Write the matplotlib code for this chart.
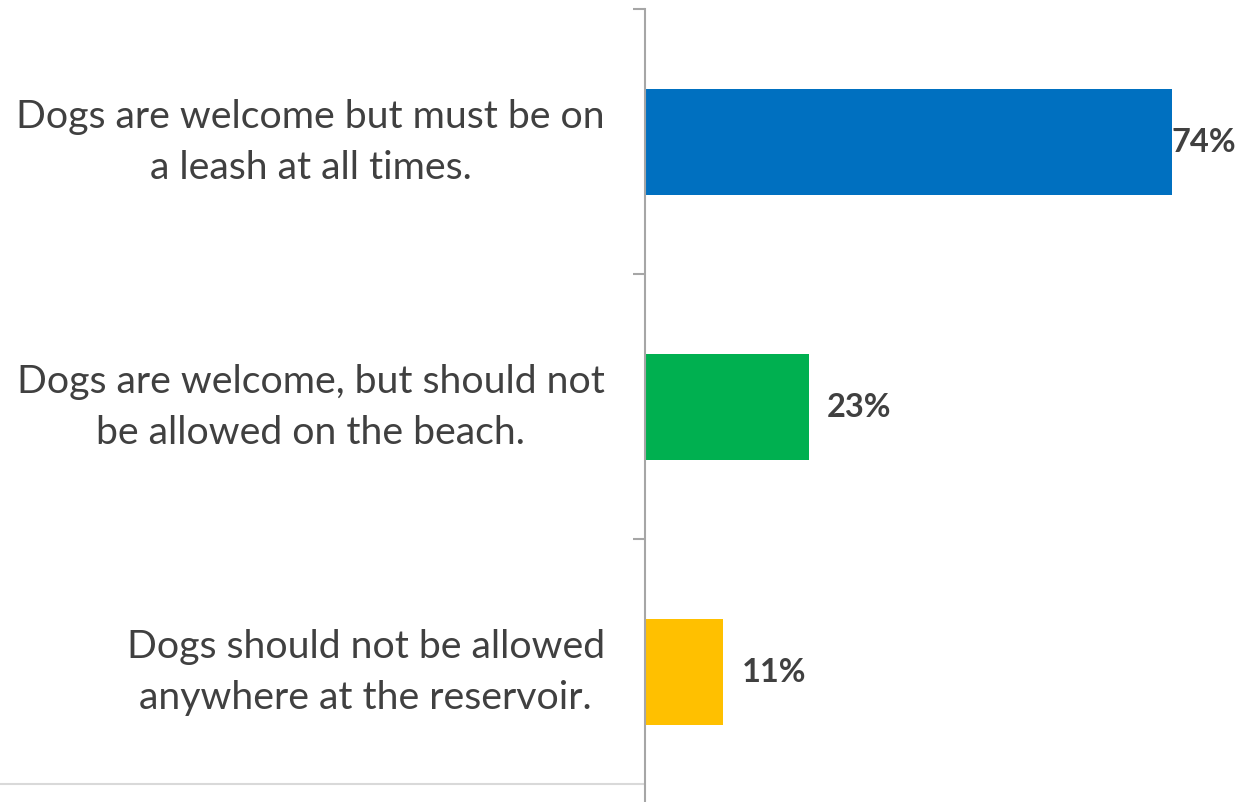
import matplotlib.pyplot as plt
from matplotlib.lines import Line2D

categories = [
    "Dogs are welcome but must be on\na leash at all times.",
    "Dogs are welcome, but should not\nbe allowed on the beach.",
    "Dogs should not be allowed\nanywhere at the reservoir.",
]
values = [74, 23, 11]
colors = ["#0070C0", "#00B050", "#FFC000"]
value_labels = ["74%", "23%", "11%"]

W, H = 1239, 803
fig = plt.figure(figsize=(W / 100, H / 100), dpi=100)
plt.rcParams['font.family'] = ['Lato', 'DejaVu Sans']

# axes placed in pixel units
left, right, top, bottom = 645, 1239, 10, 805
ax = fig.add_axes([left / W, (H - bottom) / H, (right - left) / W, (bottom - top) / H])

pos = range(len(categories))
ax.barh(pos, values, height=0.4, color=colors)
ax.set_ylim(2.5, -0.5)
ax.set_xlim(0, (right - left) / 7.12)

for s in ["top", "right", "bottom"]:
    ax.spines[s].set_visible(False)
ax.spines["left"].set_color("#a6a6a6")
ax.spines["left"].set_linewidth(1.5)
ax.set_xticks([])

ax.set_yticks(list(pos))
ax.set_yticklabels(categories, fontsize=28.3, color="#404040",
                   multialignment="center", linespacing=1.5, va="center")
ax.tick_params(axis="y", which="major", length=0, pad=29)
ax.set_yticks([-0.5, 0.5, 1.5, 2.5], minor=True)
ax.tick_params(axis="y", which="minor", length=9, width=1.5, color="#a6a6a6")

offsets = [0, 13, 13]
for i, v in enumerate(values):
    ax.annotate(value_labels[i], (v, i), xytext=(offsets[i], 0), textcoords="offset points",
                ha="left", va="center", fontsize=23.5, fontweight="bold", color="#404040")

# light baseline across the figure
fig.add_artist(Line2D([0, 1], [(H - 785) / H] * 2, transform=fig.transFigure,
                      color="#d9d9d9", linewidth=1.5, zorder=0))

fig.savefig("out.png", dpi=100)
